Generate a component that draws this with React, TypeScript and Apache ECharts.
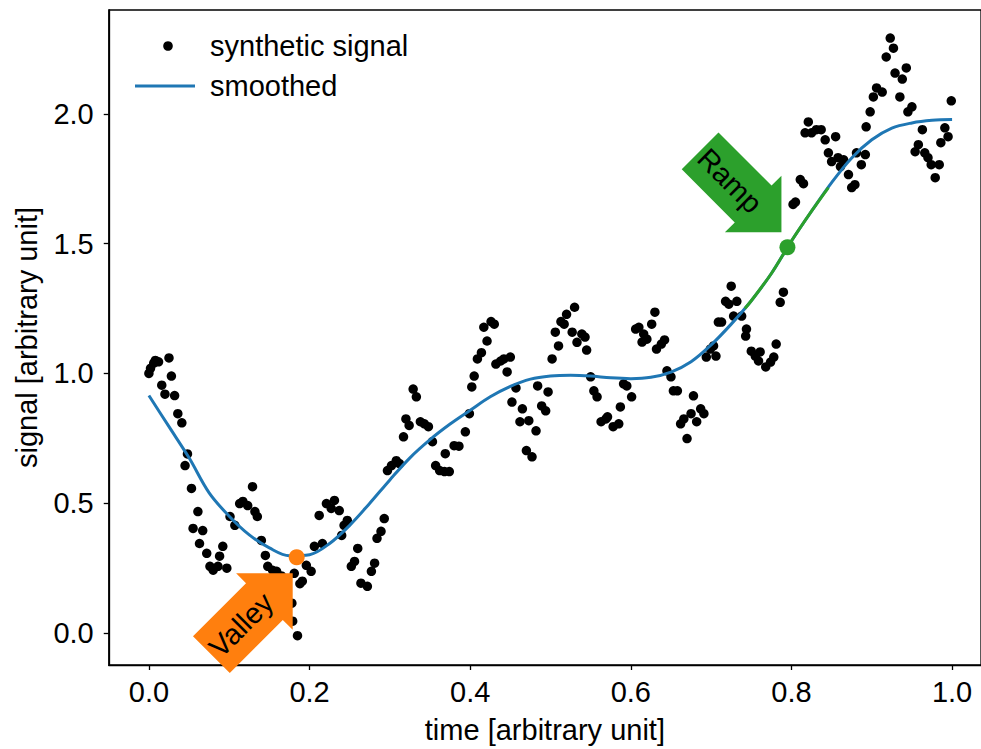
import React, { useEffect, useRef } from "react";
import * as echarts from "echarts";

// ---- data ----
const tSignal = [
  0.0, 0.002, 0.006, 0.008, 0.012, 0.016, 0.02, 0.025, 0.028, 0.032, 0.036, 0.041, 0.045, 0.048, 0.053, 0.055, 0.061, 0.063, 0.067, 0.072,
  0.076, 0.08, 0.086, 0.088, 0.092, 0.097, 0.101, 0.107, 0.113, 0.117, 0.123, 0.129, 0.132, 0.135, 0.14, 0.145, 0.148, 0.154, 0.159, 0.165,
  0.172, 0.178, 0.179, 0.181, 0.185, 0.188, 0.191, 0.196, 0.202, 0.206, 0.212, 0.216, 0.221, 0.227, 0.231, 0.237, 0.24, 0.243, 0.247, 0.252,
  0.256, 0.26, 0.264, 0.272, 0.277, 0.281, 0.284, 0.289, 0.293, 0.297, 0.302, 0.308, 0.312, 0.317, 0.32, 0.324, 0.329, 0.333, 0.338, 0.343,
  0.348, 0.353, 0.357, 0.362, 0.368, 0.369, 0.374, 0.38, 0.386, 0.394, 0.399, 0.402, 0.405, 0.409, 0.414, 0.417, 0.421, 0.426, 0.43, 0.432,
  0.438, 0.442, 0.446, 0.45, 0.452, 0.457, 0.462, 0.465, 0.47, 0.473, 0.477, 0.482, 0.484, 0.489, 0.494, 0.497, 0.502, 0.506, 0.51, 0.513,
  0.517, 0.52, 0.527, 0.53, 0.533, 0.539, 0.543, 0.545, 0.55, 0.554, 0.558, 0.563, 0.569, 0.571, 0.578, 0.585, 0.587, 0.591, 0.595, 0.601,
  0.606, 0.61, 0.614, 0.616, 0.62, 0.626, 0.63, 0.632, 0.638, 0.642, 0.645, 0.65, 0.653, 0.658, 0.662, 0.666, 0.67, 0.675, 0.678, 0.682,
  0.687, 0.691, 0.694, 0.699, 0.703, 0.706, 0.709, 0.713, 0.718, 0.722, 0.725, 0.728, 0.732, 0.738, 0.743, 0.744, 0.75, 0.755, 0.759, 0.761,
  0.768, 0.774, 0.778, 0.781, 0.786, 0.79, 0.802, 0.805, 0.811, 0.815, 0.817, 0.821, 0.825, 0.831, 0.837, 0.842, 0.846, 0.85, 0.855, 0.858,
  0.861, 0.865, 0.871, 0.875, 0.879, 0.881, 0.887, 0.892, 0.893, 0.898, 0.902, 0.906, 0.913, 0.918, 0.923, 0.927, 0.929, 0.935, 0.938, 0.943,
  0.945, 0.95, 0.954, 0.958, 0.963, 0.966, 0.97, 0.974, 0.979, 0.984, 0.986, 0.991, 0.995, 0.999,
];
const ySignal = [
  1.0, 1.02, 1.04, 1.05, 1.045, 0.955, 0.92, 1.06, 0.99, 0.915, 0.845, 0.81, 0.645, 0.69, 0.557, 0.403, 0.468, 0.345, 0.395, 0.307,
  0.257, 0.242, 0.257, 0.296, 0.334, 0.25, 0.449, 0.415, 0.499, 0.507, 0.491, 0.564, 0.468, 0.449, 0.357, 0.299, 0.257, 0.242, 0.238, 0.22,
  0.17, 0.115, 0.046, 0.23, -0.01, 0.19, 0.2, 0.261, 0.238, 0.334, 0.453, 0.345, 0.499, 0.48, 0.511, 0.472, 0.376, 0.415, 0.434, 0.257,
  0.276, 0.326, 0.192, 0.18, 0.238, 0.269, 0.365, 0.392, 0.441, 0.626, 0.645, 0.664, 0.653, 0.756, 0.825, 0.8, 0.94, 0.91, 0.814, 0.806,
  0.795, 0.737, 0.645, 0.626, 0.622, 0.691, 0.622, 0.722, 0.72, 0.775, 0.845, 0.948, 0.99, 1.056, 1.08, 1.178, 1.125, 1.2, 1.19, 1.036,
  1.048, 1.056, 1.006, 1.063, 0.89, 0.944, 0.814, 0.864, 0.703, 0.818, 0.679, 0.779, 0.952, 0.875, 0.856, 0.929, 1.056, 1.159, 1.106, 1.2,
  1.19, 1.228, 1.159, 1.255, 1.12, 1.152, 1.14, 1.09, 0.987, 0.933, 0.91, 0.814, 0.825, 0.833, 0.795, 0.806, 0.871, 0.96, 0.952, 0.91,
  1.171, 1.178, 1.121, 1.152, 1.132, 1.19, 1.236, 1.094, 1.113, 1.129, 1.01, 0.987, 0.933, 0.933, 0.806, 0.825, 0.749, 0.845, 0.914, 0.814,
  0.864, 0.845, 1.063, 1.094, 1.106, 1.067, 1.198, 1.198, 1.278, 1.267, 1.336, 1.221, 1.278, 1.221, 1.144, 1.171, 1.086, 1.067, 1.048, 1.083,
  1.025, 1.044, 1.063, 1.113, 1.274, 1.313, 1.651, 1.66, 1.747, 1.731, 1.927, 1.969, 1.927, 1.939, 1.939, 1.9, 1.85, 1.816, 1.912, 1.831,
  1.797, 1.823, 1.766, 1.716, 1.727, 1.85, 1.804, 1.843, 1.95, 2.008, 2.065, 2.1, 2.084, 2.219, 2.292, 2.253, 2.157, 2.065, 2.134, 2.177,
  2.008, 2.027, 1.854, 1.881, 1.939, 1.85, 1.831, 1.804, 1.754, 1.804, 1.889, 1.946, 1.912, 2.05,
];
const tSmooth = [
  0, 0.025, 0.05, 0.075, 0.1, 0.125, 0.15, 0.175, 0.2, 0.225, 0.25, 0.275, 0.3, 0.325, 0.35, 0.375, 0.4, 0.425, 0.45, 0.475,
  0.5, 0.525, 0.55, 0.575, 0.6, 0.625, 0.65, 0.675, 0.7, 0.725, 0.75, 0.775, 0.8, 0.825, 0.85, 0.875, 0.9, 0.925, 0.95, 0.975, 1.0,
];
const ySmooth = [
  0.915, 0.795, 0.675, 0.54, 0.45, 0.378, 0.328, 0.298, 0.302, 0.345, 0.415, 0.5, 0.59, 0.675, 0.745, 0.805, 0.858, 0.91, 0.95, 0.978,
  0.99, 0.993, 0.99, 0.983, 0.98, 0.985, 1.005, 1.045, 1.11, 1.19, 1.28, 1.385, 1.51, 1.625, 1.735, 1.83, 1.9, 1.945, 1.965, 1.975, 1.978,
];
const tRamp = [0.742, 0.75, 0.775, 0.8, 0.825, 0.846];
const yRamp = [1.25, 1.28, 1.385, 1.51, 1.625, 1.716];
const valleyPoint = [0.184, 0.292];
const rampPoint = [0.795, 1.486];
const xTicks = [0, 0.2, 0.4, 0.6, 0.8, 1.0];
const yTicks = [0, 0.5, 1.0, 1.5, 2.0];
const xLabel = "time [arbitrary unit]";
const yLabel = "signal [arbitrary unit]";
const legendNames = ["synthetic signal", "smoothed"];
const annotations = ["Valley", "Ramp"];

const FONT = '"Liberation Sans", Arial, Helvetica, sans-serif';
const FS = 29;
const BLUE = "#1f77b4";
const ORANGE = "#ff7f0e";
const GREEN = "#2ca02c";

function arrowPolygon(tipX: number, tipY: number, ang: number, hl: number, hh: number, bh: number, bl: number, textOff: number) {
  const local = [
    [0, 0], [-hl, hh], [-hl, bh], [-hl - bl, bh], [-hl - bl, -bh], [-hl, -bh], [-hl, -hh],
  ];
  const c = Math.cos(ang), s = Math.sin(ang);
  const pts = local.map(([x, y]) => [tipX + x * c - y * s, tipY + x * s + y * c]);
  const cx = -hl - textOff;
  const center = [tipX + cx * c, tipY + cx * s];
  return { pts, center };
}

export default function App() {
  const ref = useRef<HTMLDivElement>(null);
  useEffect(() => {
    if (!ref.current) return;
    const chart = echarts.init(ref.current, undefined, { renderer: "svg" });
    const axisCommon = {
      type: "value" as const,
      axisLine: { show: true, onZero: false, lineStyle: { color: "#000", width: 1.3 } },
      axisTick: { show: true, length: 5, inside: false, lineStyle: { color: "#000", width: 1.3 } },
      splitLine: { show: false },
    };
    chart.setOption({
      animation: false,
      grid: { left: 108.75, top: 10, right: -2, height: 657, show: true, borderColor: "#000", borderWidth: 1.3, backgroundColor: "transparent" },
      xAxis: {
        ...axisCommon,
        min: -0.05, max: 1.036,
        axisTick: { ...axisCommon.axisTick, customValues: xTicks },
        axisLabel: { customValues: xTicks, formatter: (v: number) => v.toFixed(1), color: "#000", fontSize: FS, fontFamily: FONT, margin: 12 },
        name: xLabel, nameLocation: "middle", nameGap: 50,
        nameTextStyle: { color: "#000", fontSize: FS, fontFamily: FONT },
      },
      yAxis: {
        ...axisCommon,
        min: -0.123, max: 2.4,
        axisTick: { ...axisCommon.axisTick, customValues: yTicks },
        axisLabel: { customValues: yTicks, formatter: (v: number) => v.toFixed(1), color: "#000", fontSize: FS, fontFamily: FONT, margin: 15 },
        name: yLabel, nameLocation: "middle", nameGap: 67,
        nameTextStyle: { color: "#000", fontSize: FS, fontFamily: FONT },
      },
      series: [
        {
          type: "scatter", name: legendNames[0], symbolSize: 9.5, z: 2,
          itemStyle: { color: "#000", opacity: 1 },
          data: tSignal.map((t, i) => [t, ySignal[i]]),
        },
        {
          type: "line", name: legendNames[1], smooth: 0.35, showSymbol: false, z: 3,
          lineStyle: { color: BLUE, width: 3 },
          data: tSmooth.map((t, i) => [t, ySmooth[i]]),
        },
        {
          type: "line", smooth: 0.35, showSymbol: false, z: 4,
          lineStyle: { color: GREEN, width: 3 },
          data: tRamp.map((t, i) => [t, yRamp[i]]),
        },
        {
          type: "scatter", symbolSize: 16, z: 5, itemStyle: { color: ORANGE, opacity: 1 },
          data: [valleyPoint],
        },
        {
          type: "scatter", symbolSize: 16, z: 5, itemStyle: { color: GREEN, opacity: 1 },
          data: [rampPoint],
        },
      ],
    });

    const vp = chart.convertToPixel({ gridIndex: 0 }, valleyPoint) as number[];
    const rp = chart.convertToPixel({ gridIndex: 0 }, rampPoint) as number[];
    const va = arrowPolygon(vp[0] - 4, vp[1] + 16, -Math.PI / 4, 40, 40, 26, 75, 33);
    const ra = arrowPolygon(rp[0] - 6, rp[1] - 15, Math.PI / 4, 40, 40, 26, 75, 33);

    chart.setOption({
      graphic: [
        { type: "polygon", z: 100, shape: { points: va.pts }, style: { fill: ORANGE } },
        {
          type: "text", z: 101, x: va.center[0], y: va.center[1], rotation: Math.PI / 4,
          style: { text: annotations[0], fill: "#000", font: `${FS}px ${FONT}`, align: "center", verticalAlign: "middle" },
        },
        { type: "polygon", z: 100, shape: { points: ra.pts }, style: { fill: GREEN } },
        {
          type: "text", z: 101, x: ra.center[0], y: ra.center[1], rotation: -Math.PI / 4,
          style: { text: annotations[1], fill: "#000", font: `${FS}px ${FONT}`, align: "center", verticalAlign: "middle" },
        },
        // legend
        { type: "circle", z: 100, shape: { cx: 168, cy: 46, r: 4.8 }, style: { fill: "#000" } },
        { type: "text", z: 100, x: 210, y: 46, style: { text: legendNames[0], fill: "#000", font: `${FS}px ${FONT}`, verticalAlign: "middle" } },
        { type: "line", z: 100, shape: { x1: 135, y1: 86, x2: 195, y2: 86 }, style: { stroke: BLUE, lineWidth: 3 } },
        { type: "text", z: 100, x: 210, y: 86, style: { text: legendNames[1], fill: "#000", font: `${FS}px ${FONT}`, verticalAlign: "middle" } },
      ],
    });
    return () => chart.dispose();
  }, []);
  return <div ref={ref} style={{ position: "fixed", left: 0, top: 0, width: 981, height: 749, background: "#fff" }} />;
}
